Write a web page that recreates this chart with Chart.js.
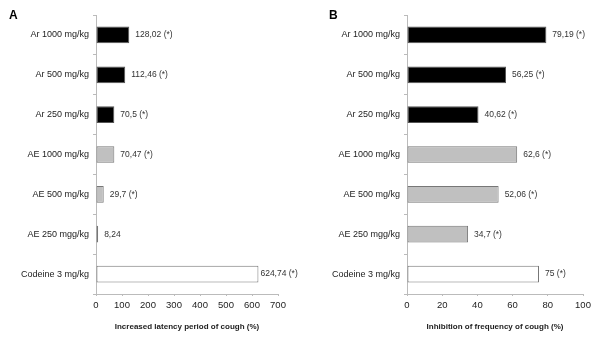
<!DOCTYPE html>
<html>
<head>
<meta charset="utf-8">
<script src="https://cdn.jsdelivr.net/npm/chart.js@4/dist/chart.umd.min.js"></script>
<style>
  html, body { margin: 0; padding: 0; background: #fff; }
  #wrap { position: relative; width: 600px; height: 338px; overflow: hidden; }
  .panel { position: absolute; top: 0; width: 300px; height: 338px; }
  .letter { position: absolute; font-family: "Liberation Sans", Arial, sans-serif; font-weight: bold; font-size: 12px; color: #000; }
</style>
</head>
<body>
<div id="wrap">
  <div class="panel" style="left:0"><canvas id="cA" width="300" height="338"></canvas></div>
  <div class="panel" style="left:300px"><canvas id="cB" width="300" height="338"></canvas></div>
  <div class="letter" style="left:9px; top:8px;">A</div>
  <div class="letter" style="left:329px; top:8px;">B</div>
</div>
<script>
const categories = ["Ar 1000 mg/kg", "Ar 500 mg/kg", "Ar 250 mg/kg", "AE 1000 mg/kg", "AE 500 mg/kg", "AE 250 mgg/kg", "Codeine 3 mg/kg"];
const latencyValues = [128.02, 112.46, 70.5, 70.47, 29.7, 8.24, 624.74];
const latencyLabels = ["128,02 (*)", "112,46 (*)", "70,5 (*)", "70,47 (*)", "29,7 (*)", "8,24", "624,74 (*)"];
const inhibitionValues = [79.19, 56.25, 40.62, 62.6, 52.06, 34.7, 75];
const inhibitionLabels = ["79,19 (*)", "56,25 (*)", "40,62 (*)", "62,6 (*)", "52,06 (*)", "34,7 (*)", "75 (*)"];
const groupFill = ["#000000", "#000000", "#000000", "#c0c0c0", "#c0c0c0", "#c0c0c0", "#ffffff"];
const groupBorder = ["#555555", "#555555", "#555555", "#777777", "#777777", "#777777", "#777777"];

const FONT = '"Liberation Sans", Arial, sans-serif';

function makeChart(id, values, labels, xMax, xStep, xTitle, yWidth, padRight) {
  const valueLabelPlugin = {
    id: 'valueLabels',
    afterDatasetsDraw(chart) {
      const ctx = chart.ctx;
      const meta = chart.getDatasetMeta(0);
      ctx.save();
      ctx.font = '8.5px ' + FONT;
      ctx.fillStyle = '#333';
      ctx.textAlign = 'left';
      ctx.textBaseline = 'middle';
      meta.data.forEach((bar, i) => {
        const gap = i === 6 && xMax === 700 ? 2 : 6;
        ctx.fillText(labels[i], bar.x + gap, bar.y);
      });
      ctx.restore();
    }
  };
  return new Chart(document.getElementById(id), {
    type: 'bar',
    data: {
      labels: categories,
      datasets: [{
        data: values,
        backgroundColor: groupFill,
        borderColor: groupBorder,
        borderWidth: 1,
        borderSkipped: false,
        barPercentage: 0.42,
        categoryPercentage: 1.0
      }]
    },
    options: {
      indexAxis: 'y',
      responsive: false,
      animation: false,
      events: [],
      layout: { padding: { top: 15, right: padRight, bottom: 6, left: 0 } },
      plugins: { legend: { display: false }, tooltip: { enabled: false } },
      scales: {
        y: {
          afterFit(scale) { scale.width = yWidth; },
          offset: true,
          grid: { offset: true, drawOnChartArea: false, drawTicks: true, tickLength: 3, color: '#bbbbbb' },
          border: { color: '#bbbbbb', width: 1 },
          ticks: { font: { family: FONT, size: 9 }, color: '#222', padding: 4 }
        },
        x: {
          min: 0, max: xMax,
          afterFit(scale) { scale.height = 38; },
          grid: { drawOnChartArea: false, drawTicks: true, tickLength: 2, color: '#bbbbbb' },
          border: { color: '#bbbbbb', width: 1 },
          ticks: { stepSize: xStep, font: { family: FONT, size: 9.5 }, color: '#222', padding: 4 },
          title: { display: true, text: xTitle, font: { family: FONT, size: 8, weight: 'bold' }, color: '#222', padding: { top: 5, bottom: 0 } }
        }
      }
    },
    plugins: [valueLabelPlugin]
  });
}

makeChart('cA', latencyValues, latencyLabels, 700, 100, 'Increased latency period of cough (%)', 96, 22);
makeChart('cB', inhibitionValues, inhibitionLabels, 100, 20, 'Inhibition of frequency of cough (%)', 107, 17);
</script>
</body>
</html>
